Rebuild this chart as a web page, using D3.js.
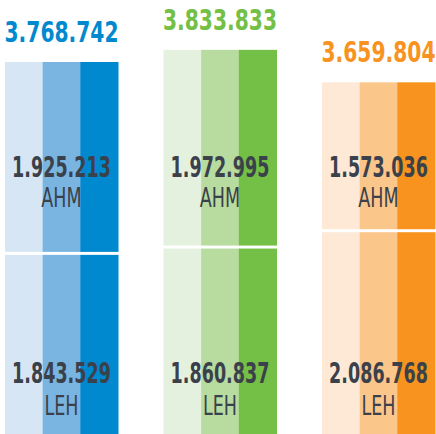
<!DOCTYPE html>
<html>
<head>
<meta charset="utf-8">
<script src="https://cdn.jsdelivr.net/npm/d3@7"></script>
<style>
  html, body { margin: 0; padding: 0; background: #fff; }
  svg { display: block; }
</style>
</head>
<body>
<svg id="chart" width="436" height="434"></svg>
<script>
// data
const groups = ["G1", "G2", "G3"];
const totals = [3768742, 3833833, 3659804];
const ahm = [1925213, 1972995, 1573036];
const leh = [1843529, 1860837, 2086768];
const segmentNames = ["AHM", "LEH"];

const width = 436;
const height = 434;

const palettes = [
  ["#d6e6f5", "#7ab5e2", "#0089cf"],
  ["#e5f1df", "#b8db9f", "#74bf45"],
  ["#fde9d6", "#fbc68a", "#f7931e"],
];
const textColor = "#3b414b";
const gap = 3; // white line between the two segments

const locale = d3.formatLocale({ decimal: ",", thousands: ".", grouping: [3], currency: ["", ""] });
const fmt = locale.format(",d");

const svg = d3.select("#chart");

const xScale = d3.scaleBand().domain(groups).range([5, 435]).paddingInner(0.287);
const stripeScale = d3.scaleBand().domain([0, 1, 2]).range([0, xScale.bandwidth()]);

// top of each column (the picture is cropped, so tops follow a truncated scale)
const topScale = d3.scaleLinear().domain([3600000, 3900000]).range([93.5, 37.5]);
// height of the upper segment
const segScale = d3.scaleLinear().domain([370000, 2000000]).range([0, 199]);

// label rows (baselines) for the two segments
const valueRows = [177, 383];
const nameRows = [207, 415];

const fontFamily = "'DejaVu Sans Condensed', 'Liberation Sans Narrow', 'DejaVu Sans', sans-serif";

// narrow text by squeezing it horizontally (condensed look)
const addText = (parent, x, y, str, opts) => {
  return parent
    .append("text")
    .attr("transform", `translate(${x},${y}) scale(${opts.squeeze},1)`)
    .attr("text-anchor", "middle")
    .attr("font-family", fontFamily)
    .attr("font-weight", opts.weight || "normal")
    .attr("font-size", opts.size)
    .attr("fill", opts.color)
    .text(str);
};

groups.forEach((g, i) => {
  const x0 = xScale(g);
  const yTop = topScale(totals[i]);
  const hA = segScale(ahm[i]);
  const segs = [
    { y: yTop, h: hA },
    { y: yTop + hA + gap, h: height - (yTop + hA + gap) },
  ];

  const col = svg.append("g").attr("transform", `translate(${x0},0)`);

  segs.forEach((s) => {
    col
      .selectAll(null)
      .data(palettes[i])
      .join("rect")
      .attr("x", (c, k) => stripeScale(k))
      .attr("y", s.y)
      .attr("width", stripeScale.bandwidth() + 0.5)
      .attr("height", s.h)
      .attr("fill", (c) => c);
  });

  const cx = xScale.bandwidth() / 2;

  // total on top
  addText(col, cx, yTop - 20, fmt(totals[i]), {
    squeeze: 0.79, weight: "bold", size: 28.5, color: palettes[i][2],
  });

  [ahm[i], leh[i]].forEach((v, k) => {
    addText(col, cx, valueRows[k], fmt(v), {
      squeeze: 0.71, weight: "bold", size: 27.5, color: textColor,
    });
    addText(col, cx, nameRows[k], segmentNames[k], {
      squeeze: 0.75, size: 26, color: textColor,
    });
  });
});
</script>
</body>
</html>
